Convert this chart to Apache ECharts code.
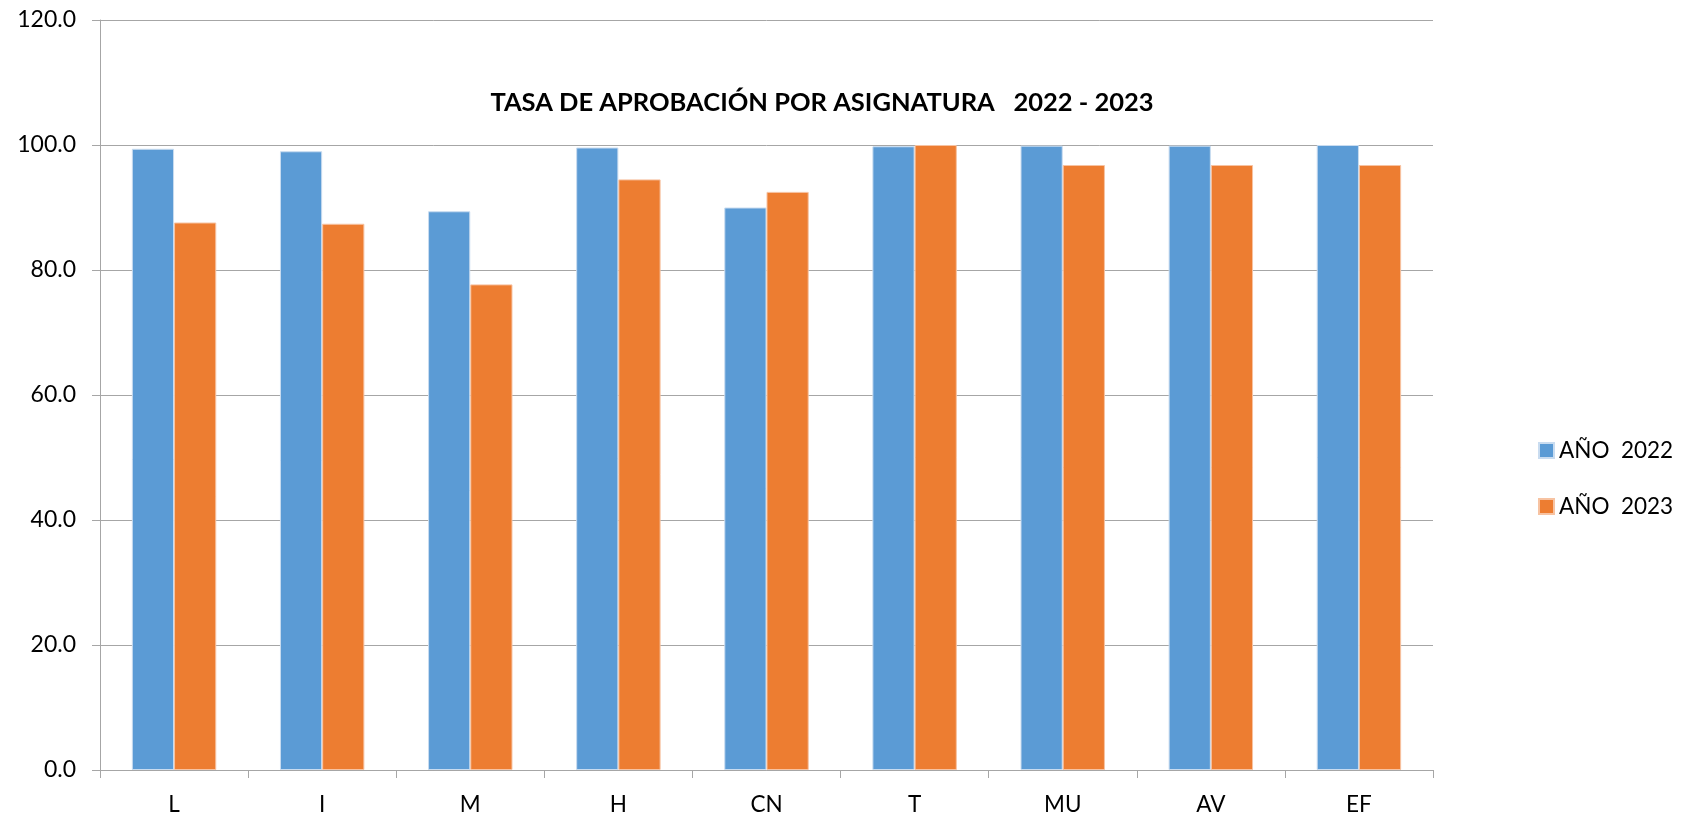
<!DOCTYPE html>
<html>
<head>
<meta charset="utf-8">
<title>Tasa de aprobación</title>
<script src="https://cdn.jsdelivr.net/npm/echarts@6/dist/echarts.min.js"></script>
<style>
  html, body { margin: 0; padding: 0; background: #fff; }
  #chart { width: 1683px; height: 816px; }
</style>
</head>
<body>
<div id="chart"></div>
<script>
// categorias y valores
const subjects = ['L', 'I', 'M', 'H', 'CN', 'T', 'MU', 'AV', 'EF']
const year2022 = [99.4, 99.0, 89.4, 99.6, 90.0, 99.8, 99.9, 99.9, 100.0]
const year2023 = [87.6, 87.4, 77.7, 94.5, 92.5, 100.0, 96.8, 96.8, 96.8]
const seriesNames = ['AÑO  2022', 'AÑO  2023']

const font = 'Lato, "Open Sans", sans-serif'
const gridColor = '#a6a6a6'

const chart = echarts.init(document.getElementById('chart'))

chart.setOption({
  animation: false,
  color: ['#5b9bd5', '#ed7d31'],
  title: {
    text: 'TASA DE APROBACIÓN POR ASIGNATURA   2022 - 2023',
    left: 817,
    top: 85,
    textAlign: 'center',
    textStyle: {
      fontFamily: font,
      fontWeight: 'bold',
      fontSize: 25.5,
      color: '#000'
    }
  },
  legend: {
    orient: 'vertical',
    left: 1533,
    top: 434,
    itemWidth: 15,
    itemHeight: 15,
    itemGap: 33,
    icon: 'rect',
    textStyle: {
      fontFamily: font,
      fontSize: 22.5,
      color: '#000'
    },
    data: seriesNames
  },
  grid: {
    left: 100,
    right: 250,
    top: 20,
    bottom: 45
  },
  xAxis: {
    type: 'category',
    data: subjects,
    axisLine: { lineStyle: { color: gridColor } },
    axisTick: { show: true, length: 8, lineStyle: { color: gridColor } },
    axisLabel: {
      margin: 23,
      fontFamily: font,
      fontSize: 22.5,
      color: '#000'
    }
  },
  yAxis: {
    type: 'value',
    min: 0,
    max: 120,
    interval: 20,
    axisLine: { show: true, lineStyle: { color: gridColor } },
    axisTick: { show: true, length: 8, lineStyle: { color: gridColor } },
    splitLine: { lineStyle: { color: gridColor } },
    axisLabel: {
      margin: 24,
      fontFamily: font,
      fontSize: 23,
      color: '#000',
      formatter: v => v.toFixed(1)
    }
  },
  series: [
    {
      name: seriesNames[0],
      type: 'bar',
      data: year2022,
      barGap: '0%',
      barCategoryGap: '43%',
      itemStyle: { borderColor: '#c9dcf0', borderWidth: 1 }
    },
    {
      name: seriesNames[1],
      type: 'bar',
      data: year2023,
      itemStyle: { borderColor: '#f7c3a2', borderWidth: 1 }
    }
  ]
})
</script>
</body>
</html>
